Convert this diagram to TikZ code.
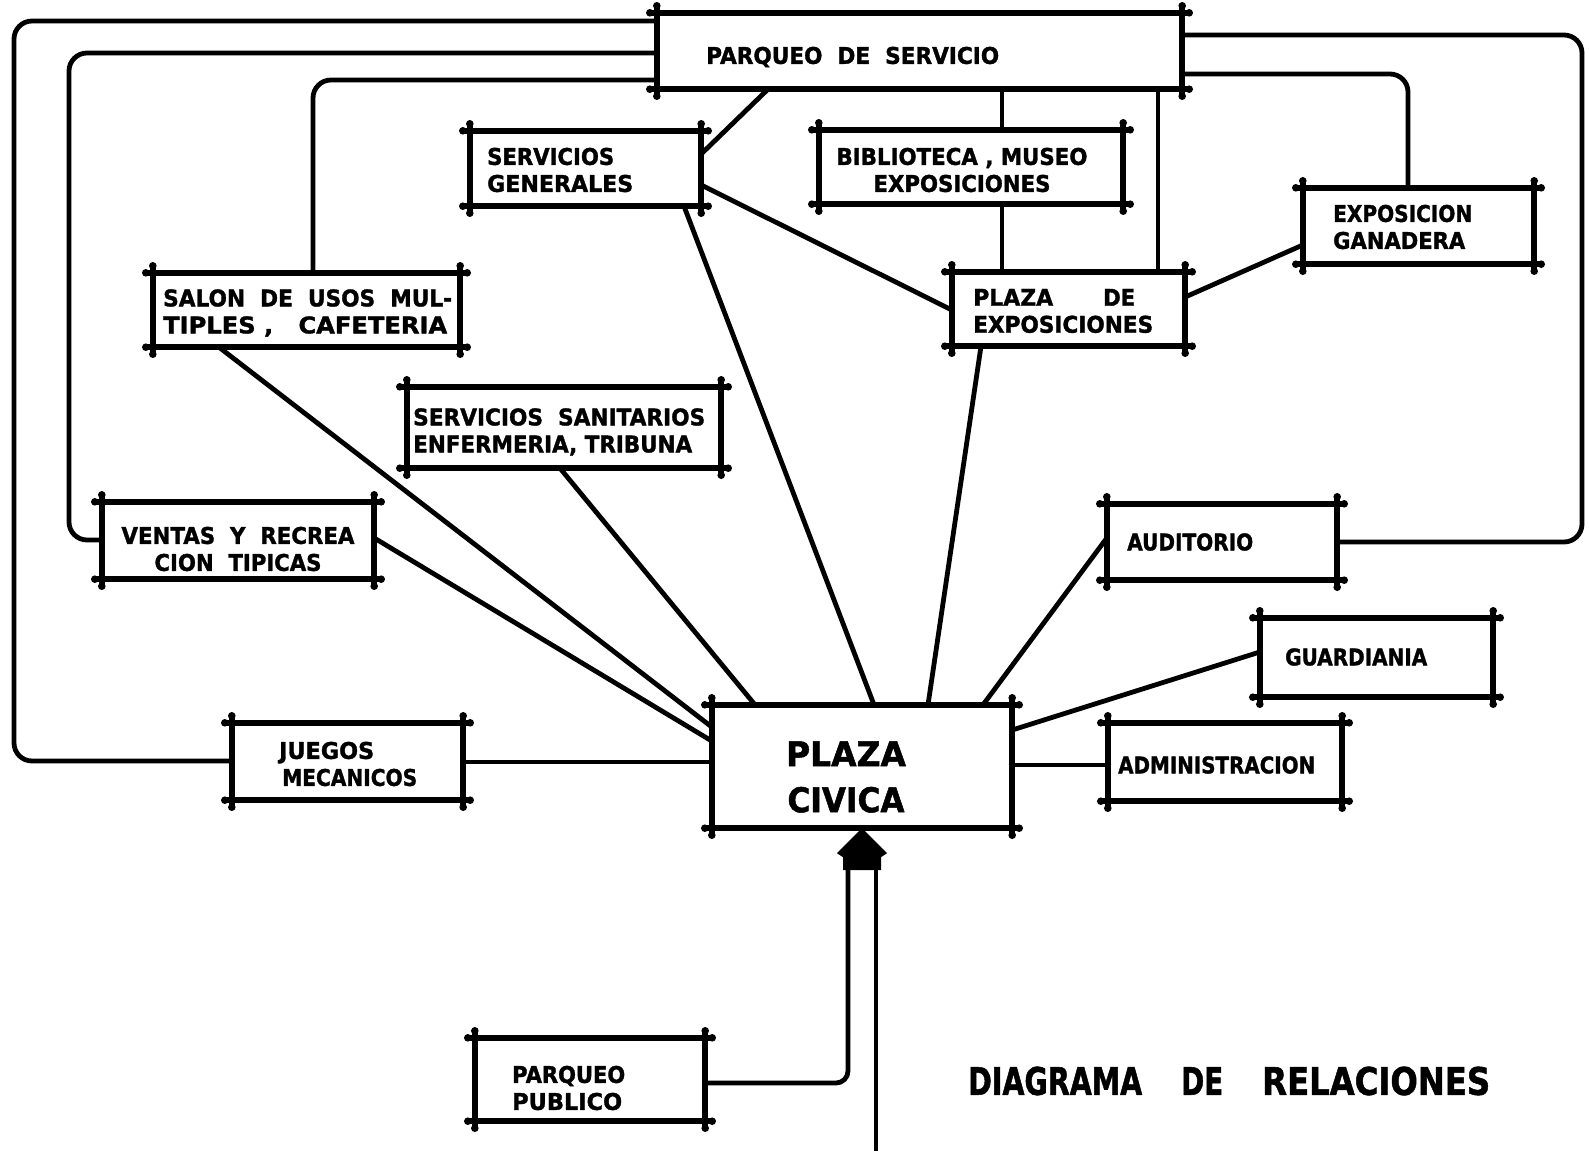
\documentclass[tikz,border=0pt]{standalone}
\usepackage{fontspec}
\setmainfont{DejaVu Sans}[BoldFeatures={FakeBold=1.5}]
\usepackage{graphicx}
\usetikzlibrary{fit}
\newcommand\fw[2]{\resizebox{#1pt}{\height}{#2}}
\newcommand\drawbxframe[1]{%
 \draw[frame] ([xshift=-7pt]#1.north west) -- ([xshift=7pt]#1.north east);
 \draw[frame] ([xshift=-7pt]#1.south west) -- ([xshift=7pt]#1.south east);
 \draw[frame] ([yshift=7pt]#1.north west) -- ([yshift=-7pt]#1.south west);
 \draw[frame] ([yshift=7pt]#1.north east) -- ([yshift=-7pt]#1.south east);
 \foreach \c/\dx/\dy in {north west/-7/0,north west/0/7,north east/7/0,north east/0/7,south west/-7/0,south west/0/-7,south east/7/0,south east/0/-7}
   {\fill ([xshift=\dx pt,yshift=\dy pt]#1.\c) circle[radius=3.8pt];}%
}
\begin{document}
\begin{tikzpicture}[x=1pt,y=-1pt,
  bx/.style={rectangle,inner sep=0pt,draw=none},
  frame/.style={line width=6.2pt,line cap=round},
  conn/.style={line width=4.8pt},
  txt/.style={font=\fontsize{23}{27}\selectfont\bfseries,inner sep=0pt,anchor=west,align=left},
  txtc/.style={font=\fontsize{23}{27}\selectfont\bfseries,inner sep=0pt,align=center}]
\useasboundingbox (0,0) rectangle (1589,1151);

% boxes
\node[bx,fit={(657,13)(1182,89)}] (ps) {};
\node[bx,fit={(470,131)(701,206)}] (sg) {};
\node[bx,fit={(819,130)(1123,204)}] (bib) {};
\node[bx,fit={(1303,188)(1534,264)}] (gan) {};
\node[bx,fit={(153,273)(460,347)}] (sal) {};
\node[bx,fit={(952,272)(1185,346)}] (pe) {};
\node[bx,fit={(407,387)(721,468)}] (san) {};
\node[bx,fit={(102,502)(374,579)}] (ven) {};
\node[bx,fit={(1107,504)(1337,580)}] (aud) {};
\node[bx,fit={(1260,618)(1493,697)}] (gua) {};
\node[bx,fit={(1108,723)(1342,801)}] (adm) {};
\node[bx,fit={(232,723)(463,800)}] (jue) {};
\node[bx,fit={(712,705)(1012,828)}] (pc) {};
\node[bx,fit={(475,1038)(705,1121)}] (pp) {};

\foreach \n in {ps,sg,bib,gan,sal,pe,san,ven,aud,gua,adm,jue,pc,pp} {\drawbxframe{\n}}

% texts
\node[txt] (tps) at (706,57) {\fw{293}{PARQUEO\ \ DE\ \ SERVICIO}};
\node[txt] (tsg) at (487,170) {\fw{127}{SERVICIOS}\\\fw{146}{GENERALES}};
\node[txtc] (tbib) at (962,170) {\fw{251}{BIBLIOTECA , MUSEO}\\\fw{177}{EXPOSICIONES}};
\node[txt] (tgan) at (1333,227) {\fw{139}{EXPOSICION}\\\fw{132}{GANADERA}};
\node[txt] (tsal) at (163,313) {\fw{289}{SALON\ \ DE\ \ USOS\ \ MUL-}\\\fw{284}{TIPLES ,\ \ \ CAFETERIA}};
\node[txt] (tpe) at (973,311) {\makebox[162pt][l]{\fw{80}{PLAZA}\hfill\fw{32}{DE}}\\\fw{180}{EXPOSICIONES}};
\node[txt] (tsan) at (413,432) {\fw{292}{SERVICIOS\ \ SANITARIOS}\\\fw{279}{ENFERMERIA, TRIBUNA}};
\node[txtc] (tven) at (238,549) {\fw{233}{VENTAS\ \ Y\ \ RECREA}\\\fw{167}{CION\ \ TIPICAS}};
\node[txt] (taud) at (1127,542) {\fw{126}{AUDITORIO}};
\node[txt] (tgua) at (1285,657) {\fw{142}{GUARDIANIA}};
\node[txt] (tadm) at (1118,765) {\fw{197}{ADMINISTRACION}};
\node[txt] (tjue) at (279,764) {\fw{95}{JUEGOS}\\\hspace*{3pt}\fw{135}{MECANICOS}};
\node[txtc,font=\fontsize{34}{46}\selectfont\bfseries] (tpc) at (846,777) {\fw{120}{PLAZA}\\\fw{117}{CIVICA}};
\node[txt] (tpp) at (512,1088) {\fw{113}{PARQUEO}\\\fw{110}{PUBLICO}};
\node[txt,font=\fontsize{38}{46}\selectfont\bfseries] (title) at (968,1081)
  {\makebox[522pt][l]{\fw{174}{DIAGRAMA}\hfill\fw{42}{DE}\hfill\fw{228}{RELACIONES}}};

% loops to parqueo de servicio
\draw[conn,rounded corners=18pt] (jue.west |- 0,761) -| (14,21) -- (ps.west |- 0,21);
\draw[conn,rounded corners=18pt] (ven.west |- 0,540) -| (69,53) -- (ps.west |- 0,53);
\draw[conn,rounded corners=18pt] (313,0 |- sal.north) |- (ps.west |- 0,80);
\draw[conn,rounded corners=18pt] (ps.east |- 0,35) -| (1582,542) -- (aud.east |- 0,542);
\draw[conn,rounded corners=18pt] (ps.east |- 0,74) -| (1408,0 |- gan.north);

% vertical links
\draw[conn] (1002,0 |- ps.south) -- (1002,0 |- bib.north);
\draw[conn] (1002,0 |- bib.south) -- (1002,0 |- pe.north);
\draw[conn] (1158,0 |- ps.south) -- (1158,0 |- pe.north);

% diagonal links
\draw[conn] (768,0 |- ps.south) -- (sg.east |- 0,154);
\draw[conn] (sg.east |- 0,185) -- (pe.west |- 0,310);
\draw[conn] (pe.east |- 0,297) -- (gan.west |- 0,245);

% links to plaza civica
\draw[conn] (684,0 |- sg.south) -- (874,0 |- pc.north);
\draw[conn] (981,0 |- pe.south) -- (928,0 |- pc.north);
\draw[conn] (219,0 |- sal.south) -- (pc.west |- 0,727);
\draw[conn] (560,0 |- san.south) -- (755,0 |- pc.north);
\draw[conn] (ven.east |- 0,538) -- (pc.west |- 0,741);
\draw[conn] (jue.east |- 0,762) -- (pc.west |- 0,762);
\draw[conn] (983,0 |- pc.north) -- (aud.west |- 0,538);
\draw[conn] (pc.east |- 0,730) -- (gua.west |- 0,652);
\draw[conn] (pc.east |- 0,765) -- (adm.west |- 0,765);

% entrance arrow
\fill (pc.south) -- ++(25,25) -- ++(-6,4) -- ++(0,13) -- ++(-38,0) -- ++(0,-13) -- ++(-6,-4) -- cycle;
\coordinate (shL) at ([xshift=-14pt,yshift=-41pt]pc.south);
\coordinate (shR) at ([xshift=14pt,yshift=-41pt]pc.south);
\coordinate (road) at (876,1151);
\draw[conn,rounded corners=12pt] (pp.east |- 0,1083) -| (shL);
\draw[conn] (shR) -- (road);
\end{tikzpicture}
\end{document}
